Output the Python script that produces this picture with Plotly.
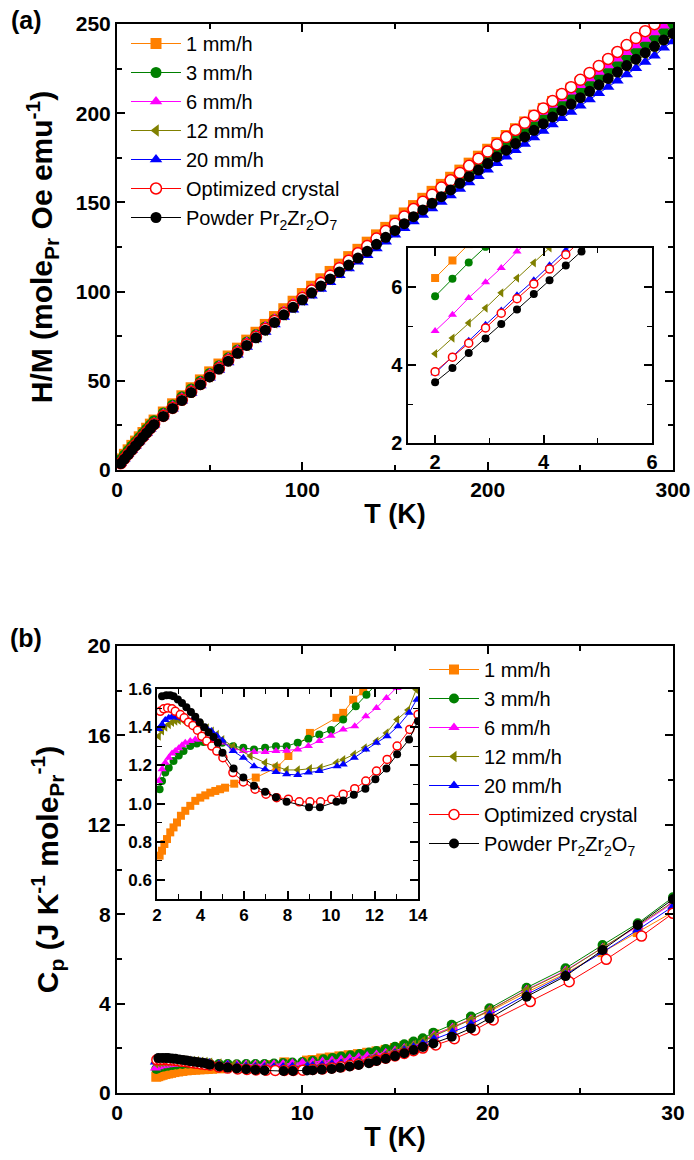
import plotly.graph_objects as go

FONT = "Liberation Sans, Arial, sans-serif"

# ---------------- Panel (a): H/M vs T ----------------
T_a = [2, 4, 6, 8, 10, 12, 14, 16, 18, 20,
       25, 30, 35, 40, 45, 50, 55, 60, 65, 70, 75, 80, 85, 90, 95, 100,
       105, 110, 115, 120, 125, 130, 135, 140, 145, 150, 155, 160, 165, 170,
       175, 180, 185, 190, 195, 200, 205, 210, 215, 220, 225, 230, 235, 240,
       245, 250, 255, 260, 265, 270, 275, 280, 285, 290, 295, 300]

hm_1 = [6.2, 8.8, 11.3, 13.8, 16.2, 18.6, 21.0, 23.4, 25.7, 28.0,
        32.5, 37.1, 41.6, 46.1, 50.5, 55.0, 59.4, 63.9, 68.3, 72.8, 77.2, 81.6, 86.0, 90.4, 94.6, 98.9,
        103.0, 107.2, 111.3, 115.4, 119.6, 123.7, 127.7, 131.8, 136.0, 140.1, 144.1, 148.2, 152.3, 156.2,
        160.1, 164.1, 168.1, 172.0, 175.9, 179.8, 183.6, 187.5, 191.3, 195.1, 198.9, 202.7, 206.6, 210.3,
        214.0, 217.7, 221.3, 224.9, 228.5, 232.1, 235.7, 239.3, 242.9, 246.5, 250.1, 253.7]
hm_3 = [5.8, 8.4, 10.9, 13.4, 15.8, 18.2, 20.6, 23.0, 25.3, 27.6,
        32.0, 36.5, 41.0, 45.4, 49.8, 54.1, 58.5, 62.9, 67.3, 71.7, 75.9, 80.2, 84.4, 88.6, 92.8, 96.9,
        100.9, 104.9, 108.8, 112.8, 116.8, 120.8, 124.6, 128.6, 132.6, 136.6, 140.4, 144.4, 148.3, 152.1,
        155.9, 159.7, 163.5, 167.3, 171.1, 174.8, 178.6, 182.5, 186.3, 190.1, 193.8, 197.6, 201.5, 205.2,
        208.9, 212.5, 216.2, 219.9, 223.6, 227.3, 230.9, 234.6, 238.3, 242.0, 245.6, 249.2]
hm_6 = [4.9, 7.5, 10.0, 12.5, 14.9, 17.3, 19.7, 22.1, 24.5, 26.8,
        31.5, 36.0, 40.6, 45.0, 49.4, 53.9, 58.3, 62.8, 67.2, 71.7, 76.0, 80.4, 84.8, 89.1, 93.4, 97.6,
        101.7, 105.8, 109.9, 114.0, 118.1, 122.2, 126.2, 130.3, 134.4, 138.5, 142.5, 146.6, 150.6, 154.5,
        158.4, 162.4, 166.3, 170.2, 174.0, 177.8, 181.6, 185.5, 189.3, 193.1, 196.9, 200.7, 204.6, 208.3,
        212.0, 215.7, 219.4, 223.1, 226.8, 230.5, 234.2, 237.9, 241.6, 245.3, 249.0, 252.7]
hm_12 = [4.3, 6.8, 9.3, 11.8, 14.2, 16.6, 19.0, 21.4, 23.8, 26.1,
         30.6, 35.1, 39.5, 43.9, 48.3, 52.6, 57.0, 61.3, 65.7, 70.0, 74.3, 78.5, 82.8, 87.1, 91.2, 95.4,
         99.2, 103.1, 107.0, 110.8, 114.7, 118.6, 122.3, 126.2, 130.1, 133.9, 137.7, 141.6, 145.4, 149.0,
         152.7, 156.5, 160.2, 163.8, 167.5, 171.2, 174.9, 178.6, 182.3, 186.0, 189.7, 193.3, 197.1, 200.7,
         204.2, 207.8, 211.4, 214.9, 218.5, 222.0, 225.6, 229.1, 232.7, 236.2, 239.7, 243.2]
hm_20 = [3.8, 6.3, 8.8, 11.2, 13.6, 16.0, 18.4, 20.8, 23.1, 25.4,
         30.0, 34.4, 38.8, 43.1, 47.4, 51.7, 56.0, 60.3, 64.6, 68.9, 73.1, 77.3, 81.5, 85.7, 89.8, 93.9,
         97.7, 101.5, 105.3, 109.1, 112.9, 116.7, 120.4, 124.2, 128.0, 131.8, 135.5, 139.3, 143.0, 146.6,
         150.2, 153.9, 157.5, 161.1, 164.7, 168.3, 171.9, 175.6, 179.2, 182.8, 186.4, 190.0, 193.7, 197.2,
         200.7, 204.2, 207.7, 211.2, 214.7, 218.2, 221.7, 225.2, 228.7, 232.2, 236.7, 240.2]
hm_opt = [3.8, 6.4, 8.9, 11.4, 13.9, 16.3, 18.7, 21.1, 23.5, 25.8,
          30.3, 34.8, 39.4, 43.8, 48.2, 52.6, 57.0, 61.5, 65.9, 70.4, 74.7, 79.1, 83.5, 87.8, 92.1, 96.4,
          100.6, 104.8, 108.9, 113.1, 117.3, 121.5, 125.5, 129.7, 133.9, 138.1, 142.1, 146.3, 150.3, 154.3,
          158.3, 162.4, 166.5, 170.5, 174.5, 178.5, 182.5, 186.6, 190.6, 194.6, 198.6, 202.7, 206.8, 210.7,
          214.6, 218.7, 222.6, 226.5, 230.4, 234.3, 238.2, 242.1, 246.0, 249.9, 253.8, 257.7]
hm_pow = [3.6, 6.1, 8.6, 11.1, 13.6, 16.0, 18.4, 20.8, 23.2, 25.5,
          30.0, 34.5, 39.0, 43.4, 47.8, 52.2, 56.6, 61.0, 65.4, 69.8, 74.1, 78.4, 82.7, 87.0, 91.2, 95.4,
          99.3, 103.2, 107.1, 111.0, 114.9, 118.8, 122.6, 126.5, 130.4, 134.3, 138.1, 142.0, 145.8, 149.5,
          153.2, 157.0, 160.7, 164.4, 168.1, 171.8, 175.5, 179.3, 183.0, 186.7, 190.4, 194.1, 197.9, 201.5,
          205.1, 208.7, 212.3, 215.9, 219.5, 223.1, 226.7, 230.3, 233.9, 237.5, 241.1, 244.7]

# inset (a): low-temperature detail
T_ai = [2.0, 2.32, 2.62, 2.93, 3.22, 3.51, 3.82, 4.11, 4.41, 4.70, 5.0]
hmi_1 = [6.23, 6.68, 7.1]
hmi_3 = [5.76, 6.21, 6.63, 7.03]
hmi_6 = [4.87, 5.29, 5.72, 6.12, 6.49, 6.91, 7.3]
hmi_12 = [4.29, 4.69, 5.08, 5.46, 5.85, 6.23, 6.62, 7.0]
hmi_20 = [3.79, 4.22, 4.62, 5.03, 5.40, 5.79, 6.17, 6.56, 6.94, 7.3]
hmi_opt = [3.83, 4.20, 4.56, 4.95, 5.33, 5.70, 6.08, 6.46, 6.83, 7.2]
hmi_pow = [3.56, 3.92, 4.31, 4.68, 5.05, 5.42, 5.82, 6.17, 6.55, 6.91, 7.3]

# ---------------- Panel (b): Cp vs T ----------------
T_b1 = [2.12, 2.23, 2.34, 2.46, 2.61, 2.76, 2.92, 3.10, 3.30, 3.53, 3.76, 3.99, 4.22, 4.45, 4.68, 4.90, 5.13,
        5.55, 6.54, 7.5, 8.04, 9.03, 10.25, 10.56, 11.02, 11.48, 12.0, 12.5, 13.0, 13.5, 14.0, 14.5, 15.0,
        15.5, 16.0, 16.5, 17.1, 18.1, 19.1, 20.1, 22.1, 24.2, 26.2, 28.1, 30.0]
cp_1 = [0.727, 0.753, 0.788, 0.814, 0.849, 0.875, 0.901, 0.936, 0.962, 0.988, 1.014, 1.031, 1.043, 1.057, 1.066,
        1.075, 1.083, 1.104, 1.136, 1.188, 1.249, 1.37, 1.449, 1.475, 1.544, 1.588, 1.64, 1.69, 1.74, 1.80, 1.86,
        1.93, 2.01, 2.10, 2.20, 2.32, 2.62, 2.95, 3.3, 3.65, 4.5, 5.35, 6.3, 7.2, 8.1]

T_b3 = [2.12, 2.23, 2.38, 2.54, 2.76, 3.0, 3.22, 3.53, 3.83, 4.14, 4.45, 4.75, 5.0, 5.5, 5.97, 6.46, 6.97, 7.47,
        7.96, 8.47, 8.96, 9.46, 10.0, 10.56, 11.14, 11.63, 12.1, 12.6, 13.1, 13.6, 14.0, 14.5, 15.0, 15.5, 16.0,
        16.5, 17.07, 18.06, 19.1, 20.1, 22.1, 24.2, 26.2, 28.1, 30.0]
cp_3 = [1.075, 1.118, 1.162, 1.188, 1.223, 1.252, 1.275, 1.301, 1.315, 1.322, 1.327, 1.325, 1.318, 1.300, 1.292,
        1.283, 1.292, 1.300, 1.300, 1.318, 1.339, 1.362, 1.385, 1.44, 1.51, 1.57, 1.63, 1.69, 1.75, 1.81, 1.88,
        1.97, 2.07, 2.18, 2.30, 2.45, 2.70, 3.05, 3.42, 3.79, 4.71, 5.58, 6.62, 7.59, 8.76]

T_b6 = [2.08, 2.23, 2.38, 2.54, 2.69, 2.84, 3.0, 3.15, 3.30, 3.53, 3.76, 3.99, 4.22, 4.45, 4.75, 5.0, 5.52, 5.97,
        6.46, 6.97, 7.47, 7.96, 8.47, 8.96, 9.46, 10.0, 10.56, 11.09, 11.6, 12.09, 12.55, 13.04, 13.5, 14.0, 14.5,
        15.0, 15.5, 16.0, 16.5, 17.1, 18.1, 19.1, 20.1, 22.1, 24.2, 26.2, 28.1, 30.0]
cp_6 = [1.118, 1.179, 1.214, 1.240, 1.262, 1.275, 1.290, 1.305, 1.318, 1.327, 1.336, 1.336, 1.336, 1.334, 1.33,
        1.32, 1.29, 1.275, 1.27, 1.27, 1.275, 1.277, 1.283, 1.301, 1.327, 1.355, 1.388, 1.405, 1.457, 1.501, 1.553,
        1.605, 1.66, 1.72, 1.80, 1.90, 2.01, 2.13, 2.26, 2.60, 2.93, 3.30, 3.70, 4.62, 5.48, 6.5, 7.45, 8.5]

T_b12 = [2.08, 2.23, 2.38, 2.54, 2.69, 2.84, 3.0, 3.2, 3.4, 3.6, 3.83, 4.06, 4.29, 4.52, 4.75, 5.0, 5.5, 6.3,
         6.97, 7.46, 7.96, 8.47, 9.03, 9.52, 10.25, 10.56, 11.05, 11.55, 12.09, 12.55, 13.04, 13.54, 13.92, 14.5,
         15.0, 15.5, 16.0, 16.5, 17.1, 18.1, 19.1, 20.1, 22.1, 24.2, 26.2, 28.1, 30.0]
cp_12 = [1.353, 1.38, 1.40, 1.414, 1.425, 1.432, 1.435, 1.435, 1.433, 1.428, 1.423, 1.41, 1.397, 1.38, 1.362,
         1.335, 1.30, 1.249, 1.214, 1.197, 1.176, 1.176, 1.183, 1.188, 1.214, 1.23, 1.257, 1.292, 1.327, 1.37,
         1.44, 1.49, 1.597, 1.72, 1.85, 1.99, 2.14, 2.30, 2.55, 2.9, 3.28, 3.7, 4.6, 5.45, 6.5, 7.5, 8.55]

T_b20 = [2.08, 2.23, 2.38, 2.54, 2.69, 2.84, 3.0, 3.2, 3.4, 3.6, 3.8, 4.0, 4.25, 4.5, 4.75, 5.0, 5.5, 5.97, 6.46,
         6.97, 7.47, 7.96, 8.47, 8.96, 9.46, 10.28, 10.56, 11.07, 11.60, 12.09, 12.58, 13.08, 13.59, 13.95, 14.5,
         15.0, 15.5, 16.0, 16.5, 17.1, 18.1, 19.1, 20.1, 22.1, 24.2, 26.2, 28.1, 30.0]
cp_20 = [1.391, 1.414, 1.437, 1.449, 1.454, 1.454, 1.450, 1.445, 1.440, 1.432, 1.425, 1.415, 1.400, 1.380, 1.355,
         1.330, 1.275, 1.240, 1.196, 1.179, 1.165, 1.153, 1.150, 1.162, 1.170, 1.196, 1.205, 1.240, 1.283, 1.318,
         1.353, 1.405, 1.475, 1.544, 1.66, 1.78, 1.91, 2.05, 2.20, 2.40, 2.72, 3.08, 3.5, 4.4, 5.3, 6.3, 7.3, 8.35]

T_bopt = [2.15, 2.31, 2.49, 2.69, 2.84, 3.07, 3.25, 3.45, 3.65, 3.86, 4.06, 4.29, 4.52, 4.75, 5.03, 5.49, 5.97,
          6.51, 7.01, 7.50, 8.04, 8.54, 9.03, 9.52, 10.03, 10.56, 11.09, 11.60, 12.09, 12.58, 13.04, 13.62, 14.0,
          14.5, 15.0, 15.5, 16.0, 16.5, 17.2, 18.2, 19.3, 20.3, 22.3, 24.4, 26.4, 28.3, 30.0]
cp_opt = [1.483, 1.496, 1.501, 1.496, 1.483, 1.466, 1.449, 1.426, 1.409, 1.384, 1.353, 1.327, 1.301, 1.275, 1.240,
          1.162, 1.113, 1.075, 1.049, 1.031, 1.023, 1.009, 1.009, 1.009, 1.023, 1.049, 1.078, 1.118, 1.170, 1.231,
          1.301, 1.388, 1.466, 1.56, 1.66, 1.77, 1.89, 2.01, 2.15, 2.43, 2.82, 3.27, 4.09, 4.98, 5.98, 7.02, 8.04]

T_bpow = [2.23, 2.43, 2.61, 2.76, 2.96, 3.15, 3.35, 3.56, 3.76, 3.96, 4.17, 4.37, 4.60, 4.80, 5.01, 5.52, 5.97,
          6.46, 6.97, 7.47, 7.96, 8.99, 9.49, 10.25, 10.56, 11.05, 11.58, 12.04, 12.55, 13.04, 13.59, 14.0, 14.5,
          15.0, 15.5, 16.0, 16.5, 17.07, 18.06, 19.1, 20.1, 22.1, 24.2, 26.2, 28.1, 30.0]
cp_pow = [1.562, 1.567, 1.567, 1.562, 1.545, 1.527, 1.504, 1.480, 1.454, 1.426, 1.400, 1.374, 1.348, 1.318, 1.266,
          1.183, 1.136, 1.093, 1.062, 1.033, 1.010, 0.981, 0.981, 1.010, 1.016, 1.046, 1.078, 1.127, 1.183, 1.258,
          1.336, 1.431, 1.53, 1.65, 1.78, 1.92, 2.06, 2.22, 2.52, 2.89, 3.34, 4.31, 5.23, 6.40, 7.52, 8.67]

names = ["1 mm/h", "3 mm/h", "6 mm/h", "12 mm/h", "20 mm/h", "Optimized crystal",
         "Powder Pr<sub>2</sub>Zr<sub>2</sub>O<sub>7</sub>"]
colors = ["#FF8000", "#008000", "#FF00FF", "#808000", "#0000FF", "#FF0000", "#000000"]
symbols = ["square", "circle", "triangle-up", "triangle-left", "triangle-up", "circle", "circle"]
fills = ["#FF8000", "#008000", "#FF00FF", "#808000", "#0000FF", "#FFFFFF", "#000000"]

a_main = [hm_1, hm_3, hm_6, hm_12, hm_20, hm_opt, hm_pow]
a_ins = [hmi_1, hmi_3, hmi_6, hmi_12, hmi_20, hmi_opt, hmi_pow]
b_T = [T_b1, T_b3, T_b6, T_b12, T_b20, T_bopt, T_bpow]
b_cp = [cp_1, cp_3, cp_6, cp_12, cp_20, cp_opt, cp_pow]

fig = go.Figure()


def add(x, y, i, xa, ya, size, legend=None):
    mline = dict(color=colors[i], width=1.5 if i == 5 else 0)
    fig.add_trace(go.Scatter(
        x=x, y=y, mode="lines+markers", name=names[i],
        xaxis=xa, yaxis=ya,
        line=dict(color=colors[i], width=1),
        marker=dict(symbol=symbols[i], size=size, color=fills[i], line=mline),
        showlegend=legend is not None, legend=legend if legend else "legend",
    ))


for i in range(7):
    add(T_a, a_main[i], i, "x", "y", 11, "legend")
for i in range(7):
    add(T_ai[:len(a_ins[i])], a_ins[i], i, "x2", "y2", 8)
for i in range(7):
    add(b_T[i], b_cp[i], i, "x3", "y3", 10, "legend2")
for i in range(7):
    add(b_T[i], b_cp[i], i, "x4", "y4", 8)

W, H = 694, 1160


def px_x(a, b):
    return [a / W, b / W]


def px_y(top, bottom):
    return [1 - bottom / H, 1 - top / H]


def axis(domain, rng, dtick, minor_dtick, anchor, size=21, lw=2, tick0=0, fmt=None, title=None,
         tsize=27, standoff=4):
    d = dict(domain=domain, range=rng, dtick=dtick, tick0=tick0, anchor=anchor, automargin=False,
             showline=True, linecolor="black", linewidth=lw, mirror="allticks",
             ticks="inside", ticklen=8, tickwidth=lw, tickcolor="black",
             showgrid=False, zeroline=False,
             tickfont=dict(family=FONT, size=size, color="black", weight="bold"),
             minor=dict(dtick=minor_dtick, tick0=tick0, ticks="inside", ticklen=5,
                        tickwidth=lw * 0.75, tickcolor="black", showgrid=False))
    if fmt:
        d["tickformat"] = fmt
    if title:
        d["title"] = dict(text=title, font=dict(family=FONT, size=tsize, color="black", weight="bold"),
                          standoff=standoff)
    return d


fig.update_layout(
    template="none",
    width=W, height=H, margin=dict(l=0, r=0, t=0, b=0, autoexpand=False),
    paper_bgcolor="white", plot_bgcolor="white",
    xaxis=axis(px_x(117, 673), [0, 300], 100, 50, "y", title="T (K)"),
    yaxis=axis(px_y(24, 470), [0, 250], 50, 25, "x",
               title="H/M (mole<sub>Pr</sub> Oe emu<sup>-1</sup>)", tsize=30, standoff=14),
    xaxis2=axis(px_x(408, 652), [1.5, 6], 2, 1, "y2", size=20, lw=1.5, tick0=2),
    yaxis2=axis(px_y(248, 443), [2, 7], 2, 1, "x2", size=20, lw=1.5, tick0=2),
    xaxis3=axis(px_x(117, 673), [0, 30], 10, 5, "y3", title="T (K)"),
    yaxis3=axis(px_y(646, 1093), [0, 20], 4, 2, "x3",
                title="C<sub>p</sub> (J K<sup>-1</sup> mole<sub>Pr</sub><sup>-1</sup>)", tsize=30, standoff=20),
    xaxis4=axis(px_x(157, 418), [2, 14], 2, 1, "y4", size=17, lw=1.5, tick0=2),
    yaxis4=axis(px_y(689, 899), [0.5, 1.6], 0.2, 0.1, "x4", size=17, lw=1.5, tick0=0, fmt=".1f"),
    legend=dict(x=126 / W, y=1 - 24 / H, xanchor="left", yanchor="top",
                bgcolor="rgba(0,0,0,0)", itemwidth=50, borderwidth=0,
                font=dict(family=FONT, size=20, color="black")),
    legend2=dict(x=424 / W, y=1 - 650 / H, xanchor="left", yanchor="top",
                 bgcolor="rgba(0,0,0,0)", itemwidth=50, borderwidth=0,
                 font=dict(family=FONT, size=20, color="black")),
    annotations=[
        dict(text="(a)", x=26 / W, y=1 - 20 / H, xref="paper", yref="paper", showarrow=False,
             xanchor="center", yanchor="middle",
             font=dict(family=FONT, size=25, color="black", weight="bold")),
        dict(text="(b)", x=26 / W, y=1 - 638 / H, xref="paper", yref="paper", showarrow=False,
             xanchor="center", yanchor="middle",
             font=dict(family=FONT, size=25, color="black", weight="bold")),
    ],
)

fig.write_html("out.html")
